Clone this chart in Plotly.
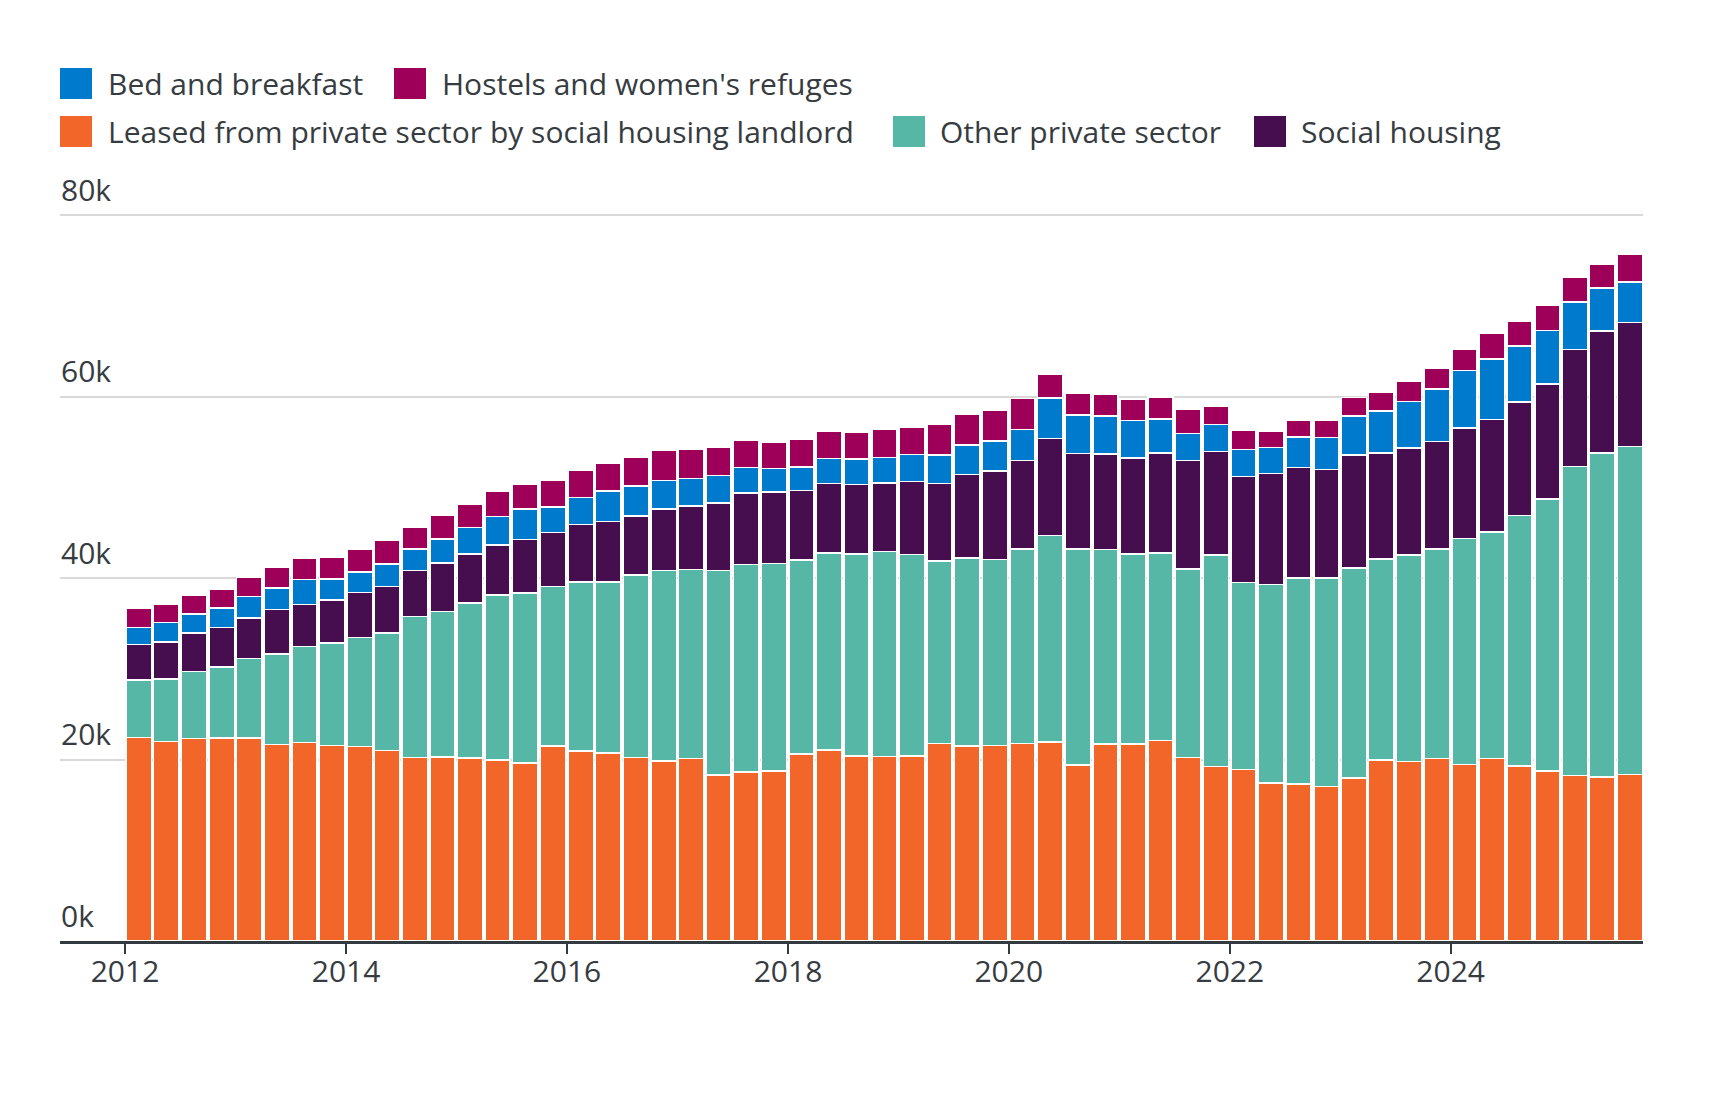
import plotly.graph_objects as go

# ---- data (counts of households, quarterly 2012 Q1 – 2025 Q3) ----
quarters = [f"{y}-{m:02d}-01" for y in range(2012, 2026) for m in (1, 4, 7, 10)][:55]

leased = [22440, 21990, 22290, 22390, 22390, 21640, 21890, 21530, 21430, 20980,
          20230, 20280, 20180, 19920, 19620, 21480, 20930, 20730, 20230, 19820,
          20130, 18310, 18620, 18720, 20630, 21030, 20380, 20330, 20380, 21740,
          21480, 21530, 21740, 21940, 19420, 21690, 21690, 22090, 20230, 19220,
          18920, 17410, 17310, 17010, 17960, 19920, 19770, 20130, 19470, 20130,
          19270, 18720, 18260, 18060, 18360]

other_private = [6340, 6890, 7400, 7800, 8750, 10010, 10560, 11330, 12030, 12980,
                 15540, 16050, 17050, 18220, 18720, 17560, 18620, 18820, 20120, 20990,
                 20830, 22500, 22890, 22890, 21380, 21740, 22290, 22590, 22190, 20120,
                 20730, 20530, 21480, 22740, 23800, 21430, 20930, 20680, 20780, 23300,
                 20580, 21890, 22690, 22990, 23150, 22190, 22750, 23040, 24910, 24950,
                 27620, 29980, 34020, 35730, 36130]

social_housing = [3870, 4080, 4270, 4330, 4480, 4880, 4630, 4720, 4930, 5130,
                  5040, 5330, 5390, 5480, 5890, 5990, 6340, 6690, 6490, 6790,
                  6990, 7440, 7850, 7850, 7650, 7650, 7640, 7550, 8050, 8560,
                  9210, 9710, 9710, 10670, 10520, 10520, 10610, 11020, 11920, 11420,
                  11670, 12220, 12180, 11970, 12420, 11680, 11820, 11870, 12170, 12380,
                  12530, 12680, 12880, 13430, 13690]

bed_and_breakfast = [1870, 2110, 2070, 2160, 2320, 2360, 2770, 2320, 2260, 2470,
                     2360, 2620, 2960, 3170, 3370, 2820, 2970, 3320, 3320, 3170,
                     3020, 3020, 2820, 2620, 2570, 2760, 2820, 2810, 3010, 3110,
                     3220, 3320, 3420, 4470, 4220, 4220, 4130, 3720, 2970, 2970,
                     2970, 2870, 3370, 3530, 4330, 4630, 5130, 5790, 6290, 6690,
                     6140, 5890, 5280, 4730, 4420]

hostels = [2160, 2010, 2060, 2060, 2160, 2270, 2310, 2410, 2570, 2570,
           2470, 2610, 2520, 2720, 2760, 2970, 3060, 3120, 3170, 3270,
           3170, 3120, 2960, 2910, 3070, 2970, 2920, 3120, 2970, 3430,
           3420, 3430, 3420, 2670, 2420, 2420, 2310, 2460, 2670, 2060,
           2110, 1760, 1810, 1860, 2010, 2010, 2220, 2260, 2320, 2770,
           2770, 2770, 2720, 2620, 3070]

y_tick_values = [0, 20000, 40000, 60000, 80000]
y_tick_labels = ["0k", "20k", "40k", "60k", "80k"]

# ---- styling ----
FONT = "Open Sans"
TEXT = "#363c41"
FS = 30
W, H = 1720, 1106
ML, MR, MT, MB = 60, 77, 205, 165
PW, PH = W - ML - MR, H - MT - MB
# 80k sits 726 px above the baseline; leave a little headroom so its gridline is drawn
Y_TOP = 80000 * PH / 726

series = [
    ("Leased from private sector by social housing landlord", leased, "#F26629"),
    ("Other private sector", other_private, "#57B7A6"),
    ("Social housing", social_housing, "#470E4F"),
    ("Bed and breakfast", bed_and_breakfast, "#007ACC"),
    ("Hostels and women's refuges", hostels, "#9E0059"),
]

fig = go.Figure()
for name, vals, col in series:
    fig.add_trace(go.Bar(
        x=quarters, y=vals, name=name,
        xperiod="M3", xperiodalignment="middle",
        marker=dict(color=col, line=dict(color="white", width=1.5)),
        showlegend=False,
    ))

def px_x(px):
    return (px - ML) / PW

def px_y(py):
    return (H - MB - py) / PH

# manual legend: (name, swatch left px, text left px, row center px)
legend_items = [
    ("Bed and breakfast", 60, 106, 83.5),
    ("Hostels and women's refuges", 394, 440, 83.5),
    ("Leased from private sector by social housing landlord", 60, 106, 131.5),
    ("Other private sector", 893, 938, 131.5),
    ("Social housing", 1254, 1299, 131.5),
]
colors = {name: col for name, _, col in series}
shapes = []
annotations = []
for name, sx, tx, cy in legend_items:
    shapes.append(dict(type="rect", xref="paper", yref="paper",
                       x0=px_x(sx), x1=px_x(sx + 32), y0=px_y(cy + 15.5), y1=px_y(cy - 15.5),
                       fillcolor=colors[name], line=dict(width=0), layer="above"))
    annotations.append(dict(text=name, xref="paper", yref="paper",
                            x=px_x(tx), y=px_y(cy), xanchor="left", yanchor="middle",
                            showarrow=False, font=dict(family=FONT, size=FS, color=TEXT)))

fig.update_layout(
    width=W, height=H,
    margin=dict(l=ML, r=MR, t=MT, b=MB, pad=0),
    paper_bgcolor="white", plot_bgcolor="white",
    barmode="stack", bargap=0.08,
    font=dict(family=FONT, size=FS, color=TEXT),
    shapes=shapes, annotations=annotations,
    xaxis=dict(
        type="date", range=["2011-05-31", "2025-09-28"],
        tick0="2012-01-01", dtick="M24", tickformat="%Y",
        ticks="outside", ticklen=10, tickwidth=2, tickcolor="#333a40",
        showline=True, linecolor="#333a40", linewidth=2.5,
        showgrid=False, zeroline=False,
        ticklabelstandoff=-8,
        tickfont=dict(family=FONT, size=FS, color=TEXT),
    ),
    yaxis=dict(
        range=[0, Y_TOP], tickvals=y_tick_values, ticktext=y_tick_labels,
        ticklabelposition="inside top", ticklabeloverflow="allow",
        ticklabelshift=-4, ticklabelstandoff=-2, ticks="",
        showgrid=True, gridcolor="#d9d9d9", gridwidth=2,
        zeroline=False, showline=False,
        tickfont=dict(family=FONT, size=FS, color=TEXT),
    ),
)

fig.write_html("out.html")
